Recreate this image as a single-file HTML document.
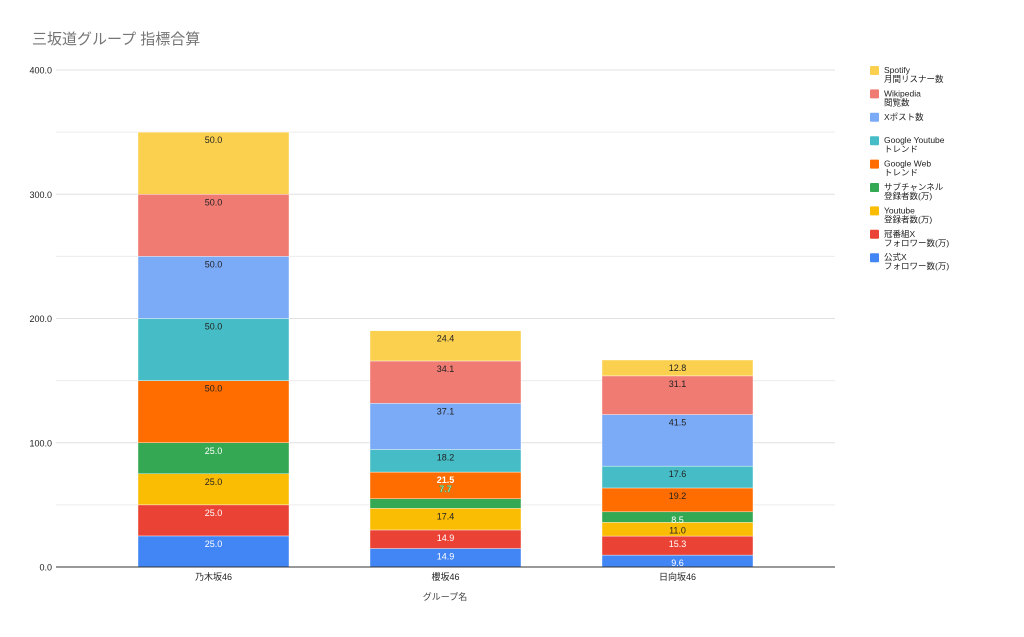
<!DOCTYPE html>
<html><head><meta charset="utf-8"><style>
body{margin:0;background:#fff;}
svg text{font-family:"Liberation Sans","Noto Sans CJK JP",sans-serif;}
</style></head><body>
<svg id="c" width="1024" height="632" xmlns="http://www.w3.org/2000/svg">
<text x="32" y="44" font-size="15" fill="#757575">三坂道グループ 指標合算</text>
</svg>
<script>
const s=document.getElementById('c');let h='';
const Y=v=>567-v*1.2425;
for(let v=0;v<=400;v+=50){const y=Y(v);h+=`<line x1="56" x2="835" y1="${y}" y2="${y}" stroke="${v%100? '#ececec':'#e0e0e0'}" stroke-width="1"/>`;
 if(v%100==0)h+=`<text x="52" y="${y+3.5}" font-size="9" fill="#222" text-anchor="end">${v.toFixed(1)}</text>`;}
const cols=['#4285f4','#ea4335','#fbbc04','#34a853','#ff6d01','#46bdc6','#7baaf7','#f07b72','#fcd04f'];
const white=[1,1,0,1,0,0,0,0,0];
const data=[[138,'乃木坂46',[25,25,25,25,50,50,50,50,50]],[370,'櫻坂46',[14.9,14.9,17.4,7.7,21.5,18.2,37.1,34.1,24.4]],[602,'日向坂46',[9.6,15.3,11.0,8.5,19.2,17.6,41.5,31.1,12.8]]];
data.forEach(([x,n,vals])=>{let c=0;vals.forEach((v,i)=>{const y1=Y(c+v),y0=Y(c);
 h+=`<rect x="${x}" y="${y1}" width="151" height="${y0-y1}" fill="${cols[i]}" stroke="#fff" stroke-width="0.4"/>`;c+=v;});
 c=0;vals.forEach((v,i)=>{const y1=Y(c+v);let col=white[i]?'#fff':'#222';let ty=y1+11;let extra='';
  if(n=='櫻坂46'&&i==3){ty=Y(c+v+21.5)+20;col='#fff';extra=' stroke="#34a853" stroke-width="0.6" font-weight="bold"';}
  if(n=='櫻坂46'&&i==4){col='#fff';extra=' font-weight="bold"';}
  h+=`<text x="${x+75.5}" y="${ty}" font-size="9" fill="${col}" text-anchor="middle"${extra}>${v.toFixed(1)}</text>`;c+=v;});
 h+=`<text x="${x+75.5}" y="580" font-size="9" fill="#222" text-anchor="middle">${n}</text>`;});
h+=`<line x1="56" x2="835" y1="567" y2="567" stroke="#333" stroke-width="1"/>`;
h+=`<text x="445" y="600" font-size="9" fill="#444" text-anchor="middle">グループ名</text>`;
const leg=[['Spotify','月間リスナー数'],['Wikipedia','閲覧数'],['Xポスト数',''],['Google Youtube','トレンド'],['Google Web','トレンド'],['サブチャンネル','登録者数(万)'],['Youtube','登録者数(万)'],['冠番組X','フォロワー数(万)'],['公式X','フォロワー数(万)']];
leg.forEach((l,k)=>{const y=66+k*23.4;const ci=8-k;
 h+=`<rect x="870" y="${y}" width="9" height="9" rx="1" fill="${cols[ci]}"/>`;
 h+=`<text x="884" y="${y+7}" font-size="8.5" fill="#222">${l[0]}</text>`;
 if(l[1])h+=`<text x="884" y="${y+16}" font-size="8.5" fill="#222">${l[1]}</text>`;});
s.insertAdjacentHTML('beforeend',h);
</script>
</body></html>
